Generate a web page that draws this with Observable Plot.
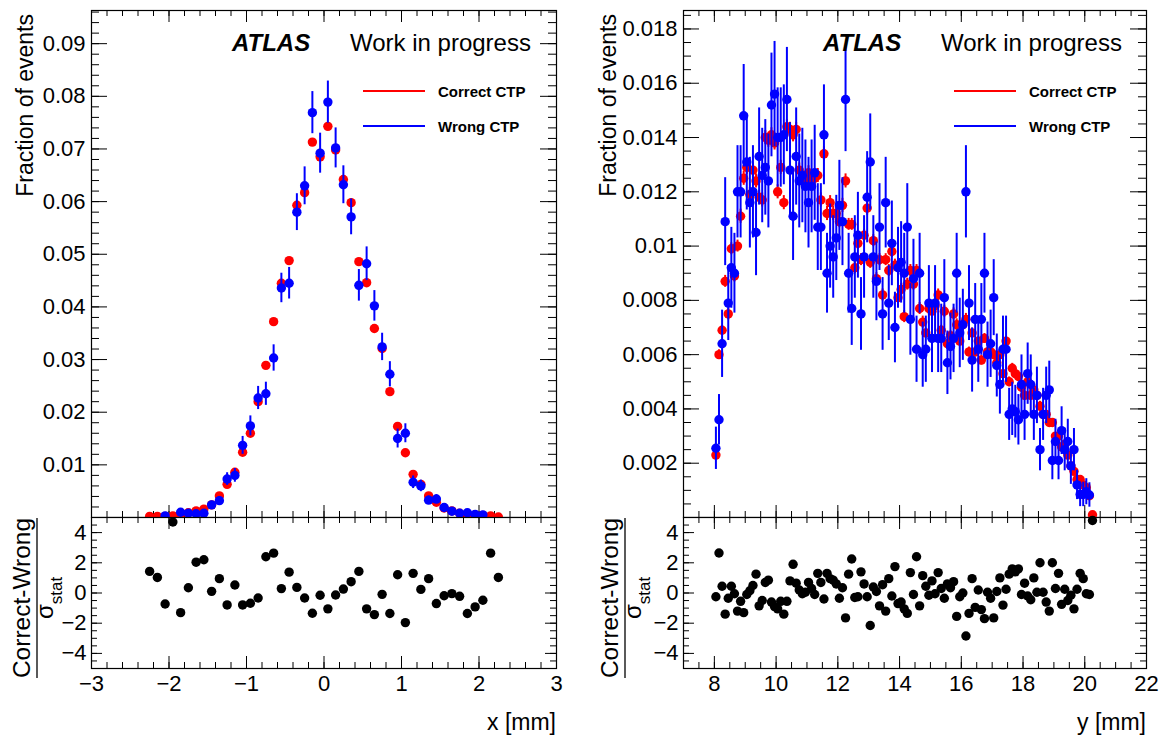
<!DOCTYPE html>
<html><head><meta charset="utf-8">
<script src="https://cdn.jsdelivr.net/npm/d3@7"></script>
<script src="https://cdn.jsdelivr.net/npm/@observablehq/plot@0.6"></script>
<style>
body{margin:0;background:#fff;}
#chart{position:relative;width:1169px;height:744px;overflow:hidden;background:#fff;font-family:"Liberation Sans",Arial,Helvetica,sans-serif;}
#chart svg{position:absolute;overflow:visible;}
</style></head><body><div id="chart"></div>
<script>
// ---------------- LEFT PANEL DATA (x [mm]) ----------------
const leftX = [-2.25,-2.15,-2.05,-1.95,-1.85,-1.75,-1.65,-1.55,-1.45,-1.35,-1.25,-1.15,-1.05,-0.95,-0.85,-0.75,-0.65,-0.55,-0.45,-0.35,-0.25,-0.15,-0.05,0.05,0.15,0.25,0.35,0.45,0.55,0.65,0.75,0.85,0.95,1.05,1.15,1.25,1.35,1.45,1.55,1.65,1.75,1.85,1.95,2.05,2.15,2.25];
const leftCorrect = [0.0002,0.0002,0.0002,0.0003,0.0006,0.0009,0.00125,0.0016,0.0024,0.0041,0.0063,0.0086,0.0124,0.0160,0.0220,0.0289,0.0372,0.0445,0.0488,0.0593,0.0617,0.0713,0.0685,0.0743,0.0698,0.0642,0.0598,0.0486,0.0446,0.0359,0.0321,0.0239,0.0173,0.0123,0.0082,0.0063,0.0041,0.0029,0.0018,0.00125,0.0008,0.0006,0.0005,0.0004,0.0003,0.0001];
const leftWrong = [null,null,0.0003,null,0.0010,0.0008,0.0007,0.0008,0.0024,0.0032,0.0073,0.0080,0.0137,0.0174,0.0227,0.0235,0.0303,0.0436,0.0445,0.0580,0.0630,0.0769,0.0692,0.0789,0.0702,0.0632,0.0571,0.0441,0.0482,0.0402,0.0324,0.0272,0.0150,0.0160,0.0067,0.0060,0.0033,0.0035,0.0019,0.0012,0.0008,0.0009,0.0006,0.0005,null,null];
const leftWrongErr = [null,null,0.00025,null,0.00045,0.0004,0.0004,0.0004,0.0007,0.0008,0.0012,0.0013,0.0017,0.0019,0.0022,0.0022,0.0025,0.0028,0.0030,0.0035,0.0036,0.0040,0.0038,0.0040,0.0038,0.0036,0.0034,0.0030,0.0032,0.0029,0.0026,0.0024,0.0018,0.0018,0.0012,0.0011,0.0008,0.00085,0.0006,0.0005,0.0004,0.00043,0.00035,0.0003,null,null];
const leftPull = [1.43,1.03,-0.73,4.7,-1.3,0.35,2.04,2.2,0.11,0.95,-0.79,0.53,-0.79,-0.68,-0.33,2.4,2.64,0.29,1.38,0.37,-0.33,-1.34,-0.15,-1.05,-0.13,0.26,0.75,1.43,-1.05,-1.43,-0.09,-1.36,1.21,-1.96,1.3,0.24,0.95,-0.7,-0.18,-0.04,-0.22,-1.36,-0.92,-0.48,2.64,1.03];

// ---------------- RIGHT PANEL DATA (y [mm]) ----------------
const rightX = [8.05,8.15,8.25,8.35,8.45,8.55,8.65,8.75,8.85,8.95,
 9.05,9.15,9.25,9.35,9.45,9.55,9.65,9.75,9.85,9.95,
 10.05,10.15,10.25,10.35,10.45,10.55,10.65,10.75,10.85,10.95,
 11.05,11.15,11.25,11.35,11.45,11.55,11.65,11.75,11.85,11.95,
 12.05,12.15,12.25,12.35,12.45,12.55,12.65,12.75,12.85,12.95,
 13.05,13.15,13.25,13.35,13.45,13.55,13.65,13.75,13.85,13.95,
 14.05,14.15,14.25,14.35,14.45,14.55,14.65,14.75,14.85,14.95,
 15.05,15.15,15.25,15.35,15.45,15.55,15.65,15.75,15.85,15.95,
 16.05,16.15,16.25,16.35,16.45,16.55,16.65,16.75,16.85,16.95,
 17.05,17.15,17.25,17.35,17.45,17.55,17.65,17.75,17.85,17.95,
 18.05,18.15,18.25,18.35,18.45,18.55,18.65,18.75,18.85,18.95,
 19.05,19.15,19.25,19.35,19.45,19.55,19.65,19.75,19.85,19.95,
 20.05,20.15,20.25];
const rightCorrect = [0.0023,0.0060,0.0069,0.0087,0.0075,0.0099,0.0089,0.0100,0.0111,0.0125,
 0.0129,0.0119,0.0128,0.0124,0.0118,0.0117,0.0140,0.0139,0.0141,0.0138,
 0.0120,0.0129,0.0116,0.0144,0.0143,0.0141,0.0143,0.0128,0.0125,0.0124,
 0.0127,0.0125,0.0125,0.0126,0.0117,0.0134,0.0112,0.0116,0.0112,0.0112,
 0.0109,0.0115,0.0124,0.0108,0.0108,0.0092,0.0101,0.0095,0.0104,0.0114,
 0.0094,0.0102,0.0088,0.0095,0.0082,0.0095,0.0091,0.0098,0.0093,0.0081,
 0.0084,0.0074,0.0086,0.0091,0.0086,0.0091,0.0077,0.0072,0.0068,0.0077,
 0.0076,0.0078,0.0082,0.0069,0.0076,0.0064,0.0067,0.0075,0.0071,0.0065,
 0.0071,0.0073,0.0061,0.0068,0.0061,0.0065,0.0058,0.0066,0.0061,0.0061,
 0.0060,0.0057,0.0060,0.0053,0.0065,0.0050,0.0055,0.0053,0.0052,0.0048,
 0.0045,0.0050,0.0045,0.0047,0.0045,0.0041,0.0038,0.0038,0.0035,0.0035,
 0.0030,0.0030,0.0026,0.0027,0.0023,0.0019,0.0017,0.0014,0.0014,0.0012,
 0.0011,0.0008,0.0001];
const rightCorrectErr = [0.00013,0.00018,0.00018,0.00022,0.00022,0.00022,0.00022,0.00022,0.00026,0.00026,
 0.00026,0.00026,0.00026,0.00026,0.00026,0.00026,0.00026,0.00026,0.00026,0.00026,
 0.00026,0.00026,0.00026,0.00026,0.00026,0.00026,0.00026,0.00026,0.00026,0.00026,
 0.00026,0.00026,0.00026,0.00026,0.00026,0.00026,0.00026,0.00026,0.00026,0.00026,
 0.00022,0.00026,0.00026,0.00022,0.00022,0.00022,0.00022,0.00022,0.00022,0.00026,
 0.00022,0.00022,0.00022,0.00022,0.00022,0.00022,0.00022,0.00022,0.00022,0.00022,
 0.00022,0.00022,0.00022,0.00022,0.00022,0.00022,0.00022,0.00022,0.00018,0.00022,
 0.00022,0.00022,0.00022,0.00018,0.00022,0.00018,0.00018,0.00022,0.00022,0.00018,
 0.00022,0.00022,0.00018,0.00018,0.00018,0.00018,0.00018,0.00018,0.00018,0.00018,
 0.00018,0.00018,0.00018,0.00018,0.00018,0.00018,0.00018,0.00018,0.00018,0.00018,
 0.00018,0.00018,0.00018,0.00018,0.00018,0.00018,0.00013,0.00013,0.00013,0.00013,
 0.00013,0.00013,0.00013,0.00013,0.00013,0.00009,0.00009,0.00009,0.00009,0.00009,
 0.00009,0.00009,0.00009];
const rightWrong = [0.00255,0.0036,0.0064,0.0109,0.0079,0.0092,0.0090,0.0120,0.0120,0.0148,
 0.0131,0.0116,0.0120,0.0105,0.0133,0.0126,0.0129,0.0124,0.0152,0.0156,
 0.0140,0.0140,0.0141,0.0154,0.0128,0.0111,0.0133,0.0124,0.0126,0.0122,
 0.0116,0.0122,0.0127,0.0107,0.0107,0.0141,0.0090,0.0100,0.0096,0.0103,
 0.0115,0.0109,0.0154,0.0090,0.0077,0.0096,0.0104,0.0075,0.0096,0.0118,
 0.0131,0.0096,0.0087,0.0107,0.0075,0.0116,0.0079,0.0101,0.0070,0.0092,
 0.0094,0.0090,0.0107,0.0073,0.0088,0.0062,0.0090,0.0060,0.0062,0.0079,
 0.0066,0.0079,0.0066,0.0066,0.0081,0.0057,0.0063,0.0066,0.0090,0.0068,
 0.0071,0.0120,0.0079,0.0058,0.0073,0.0062,0.0073,0.0090,0.0060,0.0064,
 0.0081,0.0056,0.0049,0.0062,0.0062,0.0038,0.0040,0.0039,0.0036,0.0049,
 0.0038,0.0053,0.0049,0.0038,0.0045,0.0025,0.0038,0.0045,0.0047,0.0021,
 0.0028,0.0021,0.0032,0.0025,0.0028,0.0019,0.0025,0.0012,0.00085,0.00085,
 0.00095,0.00083,null];
const rightWrongErr = [0.00078,0.00093,0.00124,0.00162,0.00138,0.00149,0.00147,0.0017,0.0017,0.00189,
 0.00177,0.00167,0.0017,0.00159,0.00179,0.00174,0.00176,0.00173,0.00191,0.00194,
 0.00183,0.00183,0.00184,0.00192,0.00175,0.00163,0.00179,0.00173,0.00174,0.00171,
 0.00167,0.00171,0.00175,0.0016,0.0016,0.00184,0.00147,0.00155,0.00152,0.00157,
 0.00166,0.00162,0.00192,0.00147,0.00136,0.00152,0.00158,0.00134,0.00152,0.00168,
 0.00177,0.00152,0.00145,0.0016,0.00134,0.00167,0.00138,0.00156,0.0013,0.00149,
 0.0015,0.00147,0.0016,0.00132,0.00145,0.00122,0.00147,0.0012,0.00122,0.00138,
 0.00126,0.00138,0.00126,0.00126,0.0014,0.00117,0.00123,0.00126,0.00147,0.00128,
 0.00131,0.0017,0.00138,0.00118,0.00132,0.00122,0.00132,0.00147,0.0012,0.00124,
 0.0014,0.00116,0.00109,0.00122,0.00122,0.00096,0.00098,0.00097,0.00093,0.00109,
 0.00096,0.00113,0.00109,0.00096,0.00104,0.00078,0.00096,0.00104,0.00106,0.00071,
 0.00082,0.00071,0.00088,0.00078,0.00082,0.00068,0.00078,0.00054,0.00045,0.00045,
 0.00048,0.00045,null];
const rightPull = [-0.25,2.65,0.45,-1.4,-0.35,0.45,-0.05,-1.2,-0.55,-1.3,
 -0.1,0.15,0.5,1.25,-0.85,-0.5,0.7,0.85,-0.6,-0.9,
 -1.05,-0.55,-1.4,-0.55,0.8,1.9,0.65,0.2,-0.05,0.05,
 0.7,0.3,-0.1,1.3,0.7,-0.4,1.3,0.95,0.85,0.6,
 -0.35,0.35,-1.65,1.25,2.25,-0.3,-0.25,1.4,0.6,-0.25,
 -2.15,0.4,0.1,-0.85,0.55,-1.2,0.95,-0.2,1.75,-0.7,
 -0.6,-1.05,-1.35,1.35,-0.1,2.4,-0.85,1.15,0.45,-0.15,
 0.8,-0.05,1.35,0.3,-0.35,0.6,0.35,0.75,-1.55,-0.25,
 0.0,-2.85,-1.35,0.95,-0.95,0.2,-1.1,-1.7,0.05,-0.35,
 -1.65,0.1,1.0,-0.8,0.25,1.25,1.6,1.4,1.6,-0.1,
 0.65,-0.2,-0.45,1.0,0.05,2.0,0.05,-0.6,-1.2,2.0,
 0.3,1.3,-0.75,0.25,-0.5,-0.15,-1.05,0.25,1.3,0.95,
 -0.05,-0.1,4.8];

// ---------------- AXES / TICK LABELS ----------------
const leftXTicks = [-3,-2,-1,0,1,2,3];
const rightXTicks = [8,10,12,14,16,18,20,22];
const leftYTicks = [0.01,0.02,0.03,0.04,0.05,0.06,0.07,0.08,0.09];
const rightYTicks = [0.002,0.004,0.006,0.008,0.01,0.012,0.014,0.016,0.018];
const pullTicks = [-4,-2,0,2,4];
const legendLabels = ["Correct CTP","Wrong CTP"];
const seriesColors = ["#ff0000","#0000ff"];

const fmt = d => (d < 0 ? "\u2212" : "") + String(+Math.abs(d).toFixed(4));
const minor = (a, b, s) => d3.range(Math.round(a / s), Math.round(b / s) + 1).map(k => +(k * s).toFixed(6));

const FONT = '"Liberation Sans", Arial, Helvetica, sans-serif';
const style = {fontFamily: FONT, fontSize: "22px", color: "black", background: "transparent", overflow: "visible"};
const chart = document.getElementById("chart");

function ticks(W, H, xMaj, xMin, yMaj, yMin, L) {
  return [
    Plot.tickX(xMin, {x: d => d, insetTop: H - L.xm, stroke: "black"}),
    Plot.tickX(xMin, {x: d => d, insetBottom: H - L.xm, stroke: "black"}),
    Plot.tickX(xMaj, {x: d => d, insetTop: H - L.xM, stroke: "black"}),
    Plot.tickX(xMaj, {x: d => d, insetBottom: H - L.xM, stroke: "black"}),
    Plot.tickY(yMin, {y: d => d, insetRight: W - L.ym, stroke: "black"}),
    Plot.tickY(yMin, {y: d => d, insetLeft: W - L.ym, stroke: "black"}),
    Plot.tickY(yMaj, {y: d => d, insetRight: W - L.yM, stroke: "black"}),
    Plot.tickY(yMaj, {y: d => d, insetLeft: W - L.yM, stroke: "black"}),
    Plot.frame({stroke: "black", strokeWidth: 1.2})
  ];
}

function panel(cfg) {
  const {left, width, mL, mR, xDomain, xMaj, xMin, yDomain, yMaj, yMin, xs, cor, corErr, wr, wrErr, pull} = cfg;
  const W = width - mL - mR;
  const rows = xs.map((x, i) => ({x, c: cor[i], ce: corErr ? corErr[i] : null, w: wr[i], we: wrErr[i], p: pull[i]}));
  const cRows = rows.filter(d => d.c != null);
  const wRows = rows.filter(d => d.w != null);
  // main pad
  const mainH = 520, mT = 10, mB = 3;
  const main = Plot.plot({
    width, height: mainH, marginLeft: mL, marginRight: mR, marginTop: mT, marginBottom: mB,
    x: {domain: xDomain, axis: null, label: null},
    y: {domain: yDomain, axis: null, label: null},
    style,
    marks: [
      ...ticks(W, mainH - mT - mB, xMaj, xMin, yMaj, yMin, {xM: 12, xm: 6, yM: 16, ym: 8}),
      Plot.axisY({ticks: yMaj, tickSize: 0, tickPadding: 6, tickFormat: fmt, label: null, fontSize: 22}),
      corErr ? Plot.ruleX(cRows, {x: "x", y1: d => d.c - d.ce, y2: d => d.c + d.ce, stroke: seriesColors[0], strokeWidth: 2, clip: true}) : null,
      Plot.dot(cRows, {x: "x", y: "c", r: 4.7, fill: seriesColors[0], stroke: null, clip: true}),
      Plot.ruleX(wRows, {x: "x", y1: d => d.w - d.we, y2: d => d.w + d.we, stroke: seriesColors[1], strokeWidth: 2, clip: true}),
      Plot.dot(wRows, {x: "x", y: "w", r: 4.7, fill: seriesColors[1], stroke: null, clip: true})
    ]
  });
  main.style.left = left + "px"; main.style.top = "0px";
  chart.appendChild(main);
  // ratio pad
  const rH = 239, rT = 12, rB = 76;
  const ratio = Plot.plot({
    width, height: rH, marginLeft: mL, marginRight: mR, marginTop: rT, marginBottom: rB,
    x: {domain: xDomain, axis: null, label: null},
    y: {domain: [-5, 5], axis: null, label: null},
    style,
    marks: [
      Plot.rect([0], {x1: xDomain[0], x2: xDomain[1], y1: -5, y2: 5, fill: "white"}),
      ...ticks(W, rH - rT - rB, xMaj, xMin, pullTicks, minor(-5, 5, 0.5), {xM: 12, xm: 6, yM: 11, ym: 6}),
      Plot.axisY({ticks: pullTicks, tickSize: 0, tickPadding: 5, tickFormat: fmt, label: null, fontSize: 22}),
      Plot.axisX({ticks: xMaj, tickSize: 0, tickPadding: 7, tickFormat: fmt, label: null, fontSize: 22}),
      Plot.dot(rows, {x: "x", y: "p", r: 4.7, fill: "black", stroke: null})
    ]
  });
  ratio.style.left = left + "px"; ratio.style.top = "505px";
  chart.appendChild(ratio);
}

panel({left: 0, width: 600, mL: 91, mR: 44, xDomain: [-3, 3], xMaj: leftXTicks, xMin: minor(-3, 3, 0.2),
  yDomain: [0, 0.0963], yMaj: leftYTicks, yMin: minor(0, 0.096, 0.002),
  xs: leftX, cor: leftCorrect, corErr: null, wr: leftWrong, wrErr: leftWrongErr, pull: leftPull});
panel({left: 600, width: 569, mL: 83, mR: 23, xDomain: [7, 22], xMaj: rightXTicks, xMin: minor(7, 22, 0.5),
  yDomain: [0, 0.01868], yMaj: rightYTicks, yMin: minor(0, 0.0185, 0.0005),
  xs: rightX, cor: rightCorrect, corErr: rightCorrectErr, wr: rightWrong, wrErr: rightWrongErr, pull: rightPull});

// ---------------- annotations (titles, ATLAS label, legends) ----------------
const ov = d3.create("svg").attr("width", 1169).attr("height", 744)
  .style("left", "0px").style("top", "0px").style("pointer-events", "none")
  .attr("font-family", FONT).attr("fill", "black");
function rotText(x, y, txt, size, anchor) {
  ov.append("text").attr("transform", `translate(${x},${y}) rotate(-90)`).attr("text-anchor", anchor)
    .attr("font-size", size).text(txt);
}
function pullTitle(xBase) {
  rotText(xBase, 598, "Correct-Wrong", 24.5, "middle");
  ov.append("line").attr("x1", xBase + 7).attr("x2", xBase + 7).attr("y1", 518).attr("y2", 678)
    .attr("stroke", "black").attr("stroke-width", 1.3);
  const t = ov.append("text").attr("transform", `translate(${xBase + 23},598) rotate(-90)`)
    .attr("text-anchor", "middle").attr("font-size", 24);
  t.append("tspan").text("\u03c3");
  t.append("tspan").attr("font-size", 17).attr("dy", 9).text("stat");
}
[{fx: 0, yTitle: 33, pullX: 30, xEnd: 556, xLab: "x [mm]"},
 {fx: 591, yTitle: 616, pullX: 618, xEnd: 1146, xLab: "y [mm]"}].forEach((p, k) => {
  rotText(p.yTitle, 14, "Fraction of events", 23, "end");
  pullTitle(p.pullX);
  ov.append("text").attr("x", p.xEnd).attr("y", 730).attr("text-anchor", "end").attr("font-size", 23).text(p.xLab);
  ov.append("text").attr("x", 232 + p.fx).attr("y", 51).attr("font-size", 24)
    .attr("font-weight", "bold").attr("font-style", "italic").text("ATLAS");
  ov.append("text").attr("x", 350 + p.fx).attr("y", 51).attr("font-size", 24).text("Work in progress");
  legendLabels.forEach((lab, i) => {
    const yy = 91 + i * 35;
    ov.append("line").attr("x1", 363 + p.fx).attr("x2", 425 + p.fx).attr("y1", yy).attr("y2", yy)
      .attr("stroke", seriesColors[i]).attr("stroke-width", 2);
    ov.append("text").attr("x", 438 + p.fx).attr("y", yy + 6).attr("font-size", 15)
      .attr("font-weight", "bold").text(lab);
  });
});
chart.appendChild(ov.node());
</script></body></html>
